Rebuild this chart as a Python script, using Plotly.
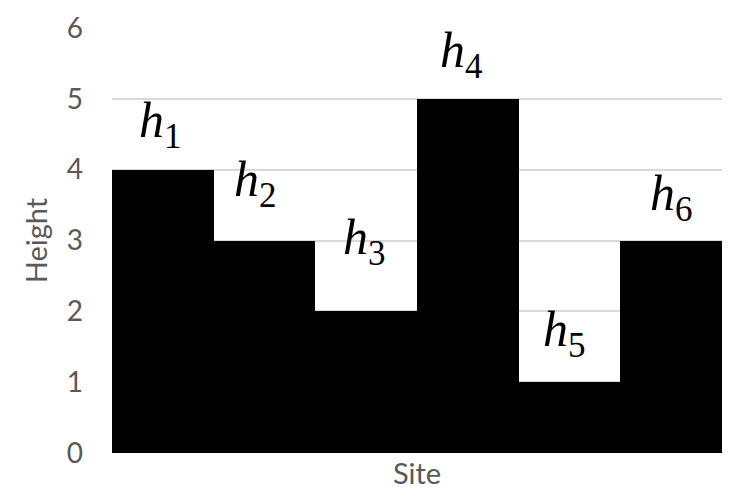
import plotly.graph_objects as go

sites = [0, 1, 2, 3, 4, 5]
heights = [4, 3, 2, 5, 1, 3]
labels = ["<i>h</i><sub>1</sub>", "<i>h</i><sub>2</sub>", "<i>h</i><sub>3</sub>",
          "<i>h</i><sub>4</sub>", "<i>h</i><sub>5</sub>", "<i>h</i><sub>6</sub>"]
label_dx = [-0.02, -0.09, -0.02, -0.06, -0.05, 0.0]
label_y = [4.65, 3.81, 3.0, 5.64, 1.69, 3.61]
y_ticks = [0, 1, 2, 3, 4, 5, 6]

fig = go.Figure(go.Bar(x=sites, y=heights, marker=dict(color="black", line=dict(width=0)),
                       width=1.0))

for s, lab, dx, ly in zip(sites, labels, label_dx, label_y):
    fig.add_annotation(x=s + dx, y=ly, xref="x", yref="y", text=lab, showarrow=False,
                       font=dict(family="Liberation Serif", size=50, color="black"),
                       xanchor="center", yanchor="middle")

fig.update_layout(
    width=732, height=494,
    margin=dict(l=112, r=10, t=23, b=41),
    paper_bgcolor="white", plot_bgcolor="white",
    bargap=0, showlegend=False,
    font=dict(family="Lato", color="#595959"),
)
fig.update_xaxes(range=[-0.5, 5.5], showticklabels=False, showgrid=False, zeroline=False,
                 showline=False, ticks="",
                 title=dict(text="Site", font=dict(size=29, color="#595959", family="Lato"),
                            standoff=10))
fig.update_yaxes(range=[0, 6], tickvals=y_ticks, showgrid=True, gridcolor="#d9d9d9", gridwidth=1.5,
                 zeroline=False, showline=False, ticks="", ticklabelstandoff=28,
                 tickfont=dict(size=28, color="#595959", family="Lato"),
                 title=dict(text="Height", font=dict(size=29, color="#595959", family="Lato"),
                            standoff=10))
fig.write_html("out.html", config={"displayModeBar": False},
               post_script="document.body.style.margin='0';")
